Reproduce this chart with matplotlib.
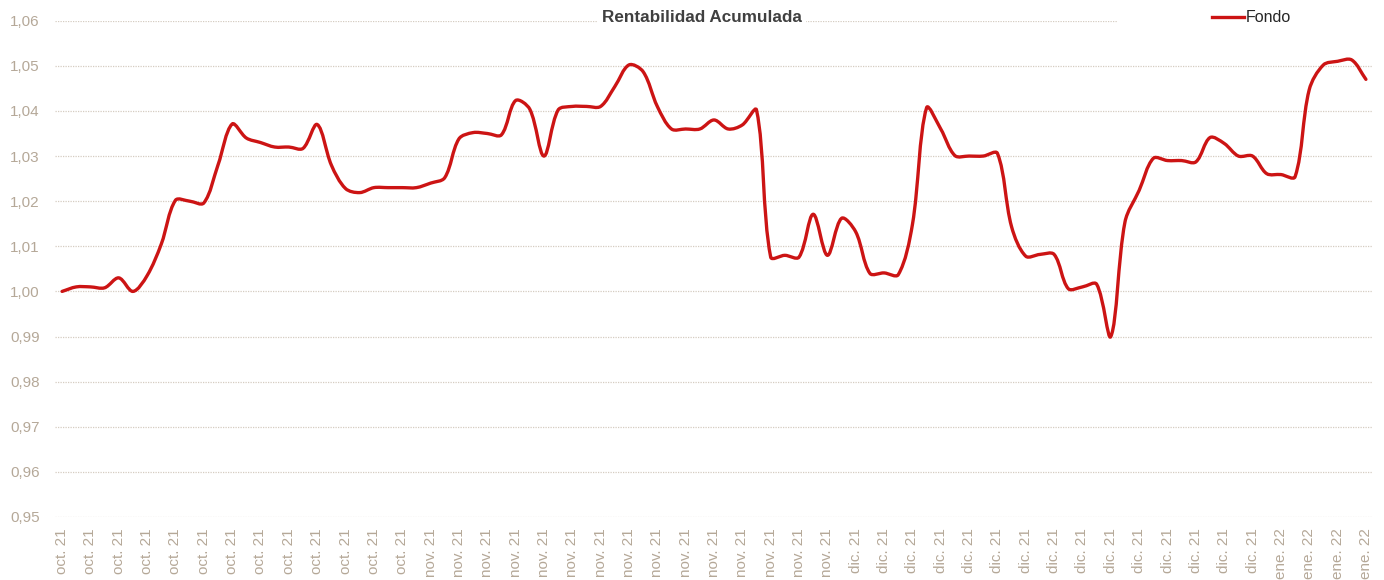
import matplotlib
matplotlib.use("Agg")
import matplotlib.pyplot as plt
import numpy as np
from matplotlib.path import Path
from matplotlib.patches import PathPatch, Rectangle
from matplotlib.lines import Line2D
from matplotlib.ticker import FuncFormatter

plt.rcParams['font.family'] = ['Liberation Sans', 'DejaVu Sans']

# one category per data point, Excel shows every 2nd label
categories = ['oct. 21'] * 26 + ['nov. 21'] * 30 + ['dic. 21'] * 30 + ['ene. 22'] * 7

fondo = [
    1.000, 1.001, 1.001, 1.0008, 1.003, 1.000, 1.0035, 1.0105, 1.0202, 1.020,
    1.0196, 1.028, 1.0371, 1.034, 1.033, 1.032, 1.032, 1.0317, 1.037, 1.028,
    1.0228, 1.0219, 1.023, 1.023, 1.023, 1.023, 1.024, 1.0252, 1.0338, 1.0352,
    1.035, 1.0347, 1.0423, 1.0404, 1.030, 1.0402, 1.041, 1.041, 1.041, 1.0454,
    1.0502, 1.0487, 1.041, 1.036, 1.036, 1.036, 1.038, 1.036, 1.0369, 1.0402,
    1.0076, 1.008, 1.0076, 1.0171, 1.008, 1.0162, 1.0132, 1.004, 1.0041, 1.0037,
    1.0148, 1.0407, 1.036, 1.0301, 1.030, 1.030, 1.0306, 1.0143, 1.0078, 1.0082,
    1.0082, 1.0006, 1.001, 1.0016, 0.990, 1.0154, 1.0224, 1.0295, 1.029, 1.029,
    1.0287, 1.0341, 1.0328, 1.030, 1.030, 1.0261, 1.0259, 1.0254, 1.0447, 1.0502,
    1.051, 1.0513, 1.047,
]

y_ticks = [0.95, 0.96, 0.97, 0.98, 0.99, 1.00, 1.01, 1.02, 1.03, 1.04, 1.05, 1.06]

red = '#CC1414'
tan = '#B5A898'

fig = plt.figure(figsize=(13.84, 5.8), dpi=100)
ax = fig.add_axes([55 / 1384, 1 - 517 / 580, 1318 / 1384, (517 - 20.7) / 580])
ax.set_xlim(-0.5, len(fondo) - 0.5)
ax.set_ylim(0.95, 1.06)

# smooth line like Excel: bezier through the points, tangents scaled by
# chord lengths measured in screen pixels (keeps overshoot small)
x = np.arange(len(fondo), dtype=float)
y = np.array(fondo)
sx = 1318 / len(fondo)
sy = (517 - 20.7) / 0.11
P = np.column_stack([x * sx, y * sy])
n = len(P)
verts = [(x[0], y[0])]
codes = [Path.MOVETO]
for i in range(n - 1):
    p0 = P[max(i - 1, 0)]
    p1 = P[i]
    p2 = P[i + 1]
    p3 = P[min(i + 2, n - 1)]
    d01 = np.hypot(*(p1 - p0))
    d12 = np.hypot(*(p2 - p1))
    d23 = np.hypot(*(p3 - p2))
    t1 = (p2 - p0) * (d12 / (d01 + d12)) / 3 if d01 + d12 > 0 else 0
    t2 = (p3 - p1) * (d12 / (d12 + d23)) / 3 if d12 + d23 > 0 else 0
    c1 = p1 + t1
    c2 = p2 - t2
    for c in (c1, c2, p2):
        verts.append((c[0] / sx, c[1] / sy))
    codes += [Path.CURVE4] * 3
patch = PathPatch(Path(verts, codes), facecolor='none', edgecolor=red, lw=2.4,
                  capstyle='round', joinstyle='round', zorder=3)
ax.add_patch(patch)

ax.set_yticks(y_ticks)
ax.yaxis.set_major_formatter(FuncFormatter(lambda v, p: f"{v:.2f}".replace('.', ',')))
ax.set_xticks(x[::2])
ax.set_xticklabels(categories[::2], rotation=90)

ax.grid(axis='y', color='#D5CCC1', linestyle=(0, (1, 1)), linewidth=0.9)
ax.set_axisbelow(True)
for s in ax.spines.values():
    s.set_visible(False)
ax.tick_params(axis='both', length=0, colors=tan, labelsize=11)
ax.tick_params(axis='y', pad=11)
ax.tick_params(axis='x', pad=8)

fig.text(702 / 1384, 1 - 18 / 580, 'Rentabilidad Acumulada', ha='center', va='center',
         fontsize=12.3, fontweight='bold', color='#404040',
         bbox=dict(facecolor='white', edgecolor='none', pad=3))

fig.patches.append(Rectangle((1118 / 1384, 1 - 30 / 580), 256 / 1384, 22 / 580,
                             transform=fig.transFigure, facecolor='white',
                             edgecolor='none', zorder=4))
handle = Line2D([], [], color=red, lw=2.4)
fig.legend([handle], ['Fondo'], loc='center left', bbox_to_anchor=(1198 / 1384, 1 - 18 / 580),
           frameon=False, fontsize=11.5, handlelength=1.95, handletextpad=0.15,
           labelcolor='#262626')

fig.savefig('out.png', dpi=100)
